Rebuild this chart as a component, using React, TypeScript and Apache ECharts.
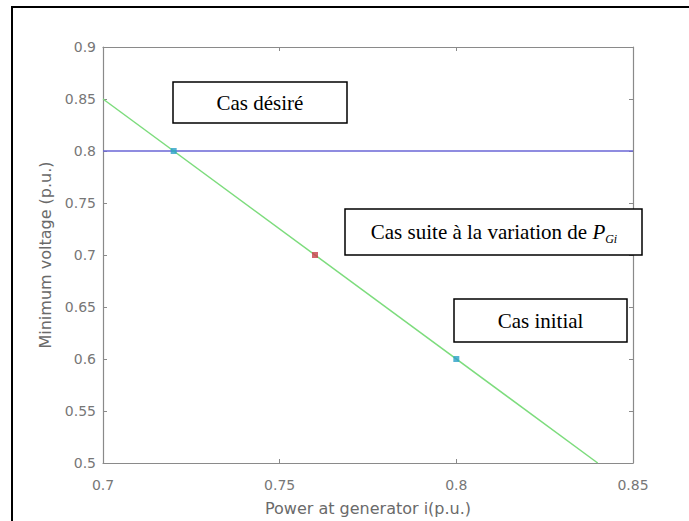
import React, { useEffect, useRef } from "react";
import * as echarts from "echarts";

const lineX = [0.7, 0.84];
const lineY = [0.85, 0.5];
const targetX = [0.7, 0.85];
const targetY = [0.8, 0.8];
const cyanPointsX = [0.72, 0.8];
const cyanPointsY = [0.8, 0.6];
const redPointX = [0.76];
const redPointY = [0.7];
const xTicks = { min: 0.7, max: 0.85, interval: 0.05 };
const yTicks = { min: 0.5, max: 0.9, interval: 0.05 };
const xName = "Power at generator i(p.u.)";
const yName = "Minimum voltage (p.u.)";
const boxDesire = "Cas désiré";
const boxSuite = "Cas suite à la variation de ";
const boxInitial = "Cas initial";

const serif = "'Liberation Serif', 'Times New Roman', serif";
const sans = "'DejaVu Sans', Arial, sans-serif";

export default function App() {
  const ref = useRef<HTMLDivElement>(null);
  useEffect(() => {
    document.body.style.margin = "0";
    const chart = echarts.init(ref.current!, null, { renderer: "svg" });
    const axisCommon = {
      type: "value" as const,
      axisLine: { show: true, lineStyle: { color: "#8a8a8a", width: 1.2 } },
      axisTick: { show: true, inside: true, length: 4, lineStyle: { color: "#8a8a8a" } },
      splitLine: { show: false },
    };
    const labelStyle = { color: "#777777", fontSize: 14, fontFamily: sans };
    chart.setOption({
      animation: false,
      backgroundColor: "#ffffff",
      grid: { left: 103, top: 47, right: 56, bottom: 57 },
      xAxis: [
        {
          ...axisCommon,
          ...xTicks,
          position: "bottom",
          axisLabel: { ...labelStyle, margin: 15 },
          name: xName,
          nameLocation: "middle",
          nameGap: 37,
          nameTextStyle: { color: "#6a6a6a", fontSize: 16, fontFamily: sans },
        },
        {
          ...axisCommon,
          ...xTicks,
          position: "top",
          axisLabel: { show: false },
        },
      ],
      yAxis: [
        {
          ...axisCommon,
          ...yTicks,
          position: "left",
          axisLabel: { ...labelStyle, margin: 7 },
          name: yName,
          nameLocation: "middle",
          nameRotate: 90,
          nameGap: 46,
          nameTextStyle: { color: "#6a6a6a", fontSize: 16, fontFamily: sans },
        },
        {
          ...axisCommon,
          ...yTicks,
          position: "right",
          axisLabel: { show: false },
        },
      ],
      series: [
        {
          type: "line",
          data: targetX.map((x, i) => [x, targetY[i]]),
          symbol: "none",
          lineStyle: { color: "#6a66d6", width: 1.5 },
        },
        {
          type: "line",
          data: lineX.map((x, i) => [x, lineY[i]]),
          symbol: "none",
          lineStyle: { color: "#7ddc7d", width: 1.5 },
        },
        {
          type: "scatter",
          data: cyanPointsX.map((x, i) => [x, cyanPointsY[i]]),
          symbol: "rect",
          symbolSize: 6,
          itemStyle: { color: "#2aa0c8" },
          z: 5,
        },
        {
          type: "scatter",
          data: redPointX.map((x, i) => [x, redPointY[i]]),
          symbol: "rect",
          symbolSize: 6,
          itemStyle: { color: "#c8404a" },
          z: 5,
        },
      ],
      graphic: [
        {
          type: "rect",
          shape: { x: 12, y: 7, width: 800, height: 700 },
          style: { fill: "none", stroke: "#000", lineWidth: 2 },
          silent: true,
        },
        {
          type: "rect",
          shape: { x: 173, y: 82, width: 174, height: 41 },
          style: { fill: "#fff", stroke: "#000", lineWidth: 1.5 },
          z: 10,
        },
        {
          type: "text",
          x: 260,
          y: 102.5,
          style: {
            text: boxDesire,
            font: `21px ${serif}`,
            fill: "#000",
            align: "center",
            verticalAlign: "middle",
          },
          z: 11,
        },
        {
          type: "rect",
          shape: { x: 345, y: 209, width: 297, height: 46 },
          style: { fill: "#fff", stroke: "#000", lineWidth: 1.5 },
          z: 10,
        },
        {
          type: "text",
          x: 494,
          y: 232,
          style: {
            text: `{n|${boxSuite}}{i|P}{s|Gi}`,
            align: "center",
            verticalAlign: "middle",
            rich: {
              n: { fontSize: 21, fontFamily: serif, color: "#000", lineHeight: 26 },
              i: { fontSize: 21, fontFamily: serif, fontStyle: "italic", color: "#000", lineHeight: 26 },
              s: {
                fontSize: 12,
                fontFamily: serif,
                fontStyle: "italic",
                color: "#000",
                verticalAlign: "bottom",
              },
            },
          },
          z: 11,
        },
        {
          type: "rect",
          shape: { x: 454, y: 299, width: 173, height: 43 },
          style: { fill: "#fff", stroke: "#000", lineWidth: 1.5 },
          z: 10,
        },
        {
          type: "text",
          x: 540.5,
          y: 321,
          style: {
            text: boxInitial,
            font: `21px ${serif}`,
            fill: "#000",
            align: "center",
            verticalAlign: "middle",
          },
          z: 11,
        },
      ],
    });
    return () => chart.dispose();
  }, []);
  return (
    <div
      ref={ref}
      style={{ position: "fixed", left: 0, top: 0, width: 689, height: 521 }}
    />
  );
}
